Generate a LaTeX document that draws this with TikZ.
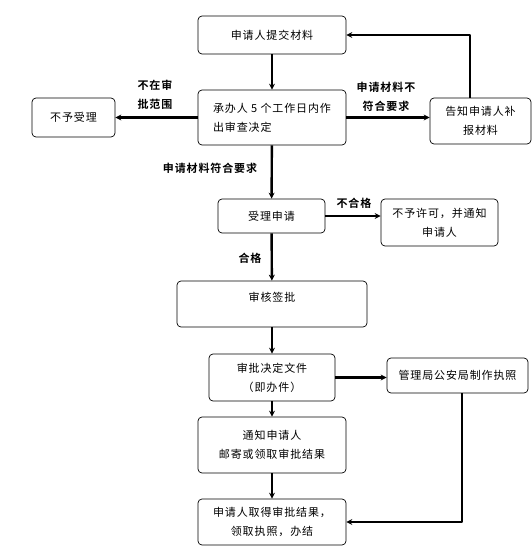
\documentclass[tikz,border=0pt]{standalone}
\usepackage{fontspec}
\setmainfont{Noto Sans CJK SC}[BoldFont={Noto Sans CJK SC Bold},LetterSpace=8]
\usetikzlibrary{arrows.meta}
\begin{document}
\begin{tikzpicture}[x=1pt,y=-1pt,>={Stealth[length=6pt,width=6pt]}, font=\fontsize{11}{19}\selectfont, line join=round,
	box/.style={draw,rounded corners=4pt,line width=0.7pt,align=center,inner sep=2pt},
	lab/.style={font=\fontsize{11}{19}\selectfont\bfseries,align=center},
	arr/.style={->,line width=2.4pt}]
	\useasboundingbox (0,0) rectangle (532,546);
	% boxes
	\node[box,minimum width=148,minimum height=38] (tijiao) at (272,35) {申请人提交材料};
	\node[box,minimum width=148,minimum height=55,align=left] (chengban) at (272,117.5) {承办人 5 个工作日内作\\出审查决定};
	\node[box,minimum width=83,minimum height=39] (buyu) at (73.5,117.5) {不予受理};
	\node[box,minimum width=101,minimum height=46] (gaozhi) at (480.5,121) {告知申请人补\\报材料};
	\node[box,minimum width=107,minimum height=34] (shouli) at (271.5,216) {受理申请};
	\node[box,minimum width=117,minimum height=47] (buxu) at (439.5,222.5) {不予许可，并通知\\申请人};
	\node[box,minimum width=190,minimum height=46,text depth=15pt] (shenhe) at (272,304) {审核签批};
	\node[box,minimum width=126,minimum height=47] (jueding) at (272,377.5) {审批决定文件\\（即办件）};
	\node[box,minimum width=141,minimum height=35] (guanli) at (457.5,375.5) {管理局公安局制作执照};
	\node[box,minimum width=148,minimum height=56] (tongzhi) at (272,445) {通知申请人\\邮寄或领取审批结果};
	\node[box,minimum width=148,minimum height=46] (banjie) at (272,522) {申请人取得审批结果，\\领取执照，办结};
	\coordinate (up) at (470,35);
	\coordinate (dn) at (462,522);
	% connectors
	\draw[arr] (tijiao) -- (chengban);
	\draw[arr] (chengban.west) -- (chengban.west -| buyu.east);
	\draw[arr] (chengban.east) -- (chengban.east -| gaozhi.west);
	\draw[arr] (gaozhi.north -| up) |- (tijiao.east);
	\draw[arr] (chengban) -- (shouli);
	\draw[arr] (shouli.east) -- (shouli.east -| buxu.west);
	\draw[arr] (shouli) -- (shenhe);
	\draw[arr] (shenhe) -- (jueding);
	\draw[arr] (jueding.east) -- (jueding.east -| guanli.west);
	\draw[arr] (jueding) -- (tongzhi);
	\draw[arr] (tongzhi) -- (banjie);
	\draw[arr] (guanli.south -| dn) |- (banjie.east);
	% labels
	\node[lab] (fanwei) at (155,95) {不在审\\批范围};
	\node[lab] (buhe) at (386,97) {申请材料不\\符合要求};
	\node[lab] (fuhe) at (210,168) {申请材料符合要求};
	\node[lab] (buhege) at (354,203) {不合格};
	\node[lab] (hege) at (250,258) {合格};
\end{tikzpicture}
\end{document}
